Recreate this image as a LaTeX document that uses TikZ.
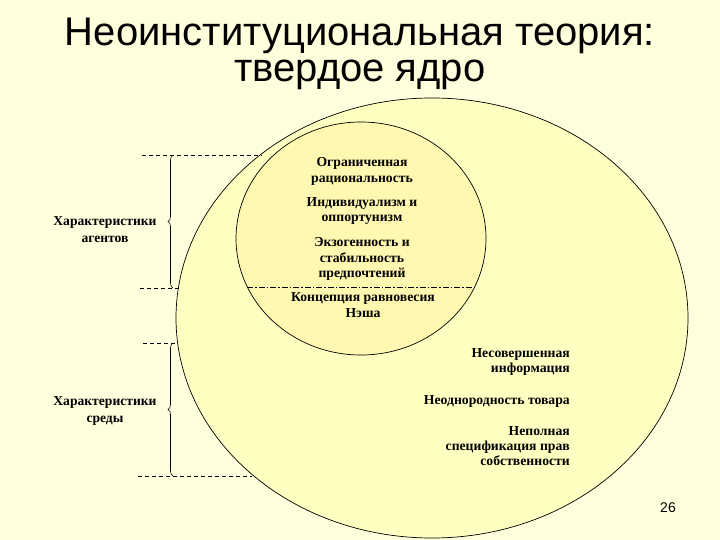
\documentclass[tikz,border=0pt]{standalone}
\usepackage{fontspec}
\setmainfont{Liberation Serif}
\newfontfamily\titlefont{Liberation Sans}
\usetikzlibrary{shapes.geometric, decorations.pathreplacing}
\definecolor{slidebg}{RGB}{255,255,222}
\definecolor{outerfill}{RGB}{255,255,194}
\definecolor{innerfill}{RGB}{255,248,176}

\begin{document}
\begin{tikzpicture}[x=1pt, y=-1pt,
    core/.style={ellipse, draw, line width=0.7pt, inner sep=0pt, outer sep=0pt},
    item/.style={font=\bfseries\fontsize{13.7}{15.2}\selectfont, align=center, inner sep=0pt},
    side/.style={item, font=\bfseries\fontsize{13.6}{17}\selectfont},
    heading/.style={font=\titlefont\fontsize{40}{36}\selectfont, align=center, anchor=north, inner sep=0pt},
    guide/.style={line width=0.6pt, dash pattern=on 4pt off 3pt},
    split/.style={line width=0.6pt, dash pattern=on 6pt off 2pt on 1.5pt off 2pt},
    bracket/.style={line width=0.6pt, decorate, decoration={brace, amplitude=5pt}}]
    \fill[slidebg] (0,0) rectangle (720,540);
    \useasboundingbox (0,0) rectangle (720,540);

    % title
    \node[heading] (title) at (360,17.4) {Неоинституциональная теория:\\твердое ядро};

    % circles
    \node[core, fill=outerfill, minimum width=512pt, minimum height=440pt] (outer) at (432,318) {};
    \node[core, fill=innerfill, minimum width=250pt, minimum height=233pt] (inner) at (361,238.5) {};
    \coordinate (cut) at (361,287);
    \draw[split] (inner.203 |- cut) -- (inner.337 |- cut);

    % agents
    \node[item] (bounded) at (362,171.5) {Ограниченная\\рациональность};
    \node[item] (indiv) at (362,211) {Индивидуализм и\\оппортунизм};
    \node[item] (exog) at (362,259) {Экзогенность и\\стабильность\\предпочтений};
    \node[item] (nash) at (363,305) {Концепция равновесия\\Нэша};

    % environment
    \node[item, align=right, anchor=east] (info) at (570,362) {Несовершенная\\информация};
    \node[item, anchor=east] (goods) at (570,401) {Неоднородность товара};
    \node[item, align=right, anchor=east] (rights) at (570,446) {Неполная\\спецификация прав\\собственности};

    % braces on the left
    \coordinate (ag-top) at (142,155);
    \coordinate (ag-bot) at (140,288);
    \coordinate (env-top) at (143,343);
    \coordinate (env-bot) at (138,476);
    \draw[guide] (ag-top) -- (outer.136.5 |- ag-top);
    \draw[guide] (ag-bot) -- (outer.173.3 |- ag-bot);
    \draw[guide] (env-top) -- (outer.185.6 |- env-top);
    \draw[guide] (env-bot) -- (outer.221.6 |- env-bot);
    \draw[bracket] (173,288) -- (173,155);
    \draw[bracket] (173,476) -- (173,343);
    \node[side] (agents) at (105,230) {Характеристики\\агентов};
    \node[side] (env) at (105,411) {Характеристики\\среды};

    \node[font=\titlefont\fontsize{14}{14}\selectfont] (page) at (668,508) {26};
\end{tikzpicture}
\end{document}
